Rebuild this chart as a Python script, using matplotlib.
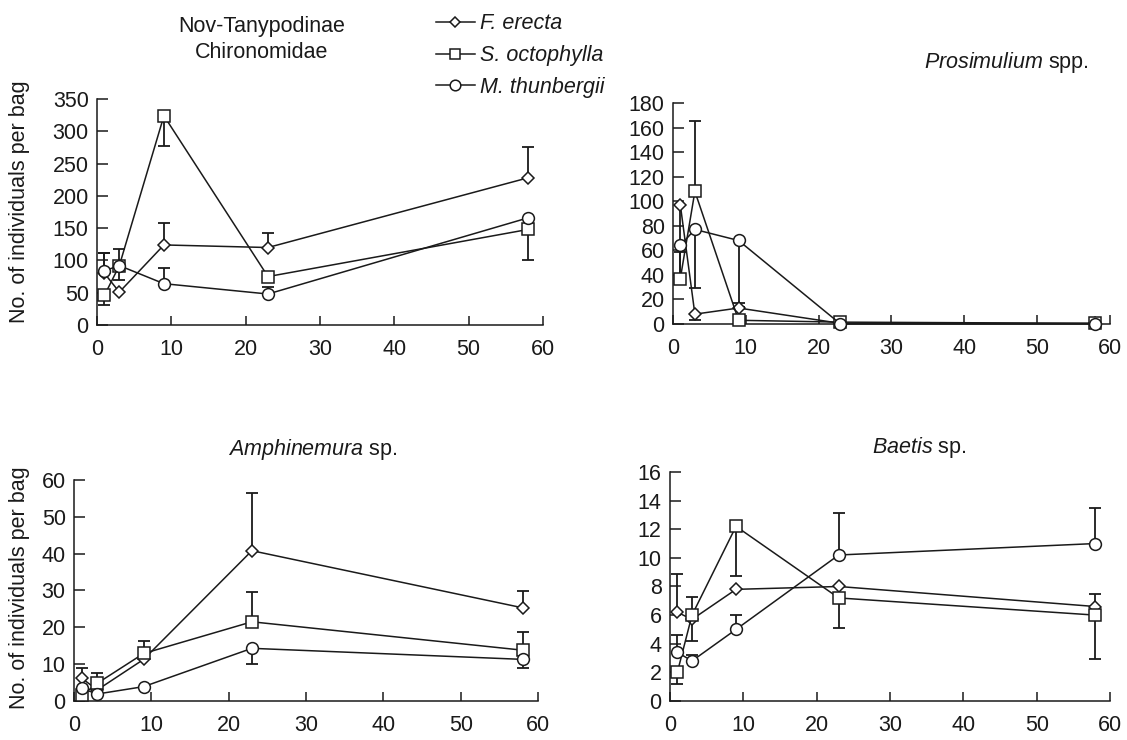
import numpy as np
import matplotlib
matplotlib.use("Agg")
import matplotlib.pyplot as plt

plt.rcParams['font.family'] = ['Liberation Sans', 'DejaVu Sans']
plt.rcParams['mathtext.fontset'] = 'custom'
plt.rcParams['mathtext.rm'] = 'Liberation Sans'
plt.rcParams['mathtext.it'] = 'Liberation Sans:italic'

# days in the stream
days = [1, 3, 9, 23, 58]
species = ['F. erecta', 'S. octophylla', 'M. thunbergii']
markers = ['D', 's', 'o']
msizes = [6.0, 8.0, 8.5]

# Nov-Tanypodinae Chironomidae
chir_mean = {'F. erecta': [80, 51, 124, 120, 228],
             'S. octophylla': [46, 92, 324, 75, 148],
             'M. thunbergii': [84, 92, 64, 48, 166]}
chir_up = {'F. erecta': [31, 0, 34, 23, 47],
           'S. octophylla': [0, 26, 0, 0, 0],
           'M. thunbergii': [27, 0, 25, 11, 0]}
chir_lo = {'F. erecta': [0, 0, 0, 0, 0],
           'S. octophylla': [15, 22, 47, 0, 47],
           'M. thunbergii': [0, 0, 0, 0, 0]}

# Prosimulium spp.
pros_mean = {'F. erecta': [97, 8, 13, 0.5, 0.5],
             'S. octophylla': [37, 108, 3, 1.5, 0.5],
             'M. thunbergii': [64, 77, 68, 0, 0]}
pros_up = {'F. erecta': [0, 0, 4, 0, 0],
           'S. octophylla': [22, 57, 0, 0, 0],
           'M. thunbergii': [0, 0, 0, 0, 0]}
pros_lo = {'F. erecta': [57, 5, 0, 0, 0],
           'S. octophylla': [0, 0, 0, 0, 0],
           'M. thunbergii': [0, 48, 54, 0, 0]}

# Amphinemura sp.
amph_mean = {'F. erecta': [6.2, 3.0, 11.3, 40.8, 25.3],
             'S. octophylla': [1.5, 4.8, 12.9, 21.5, 13.8],
             'M. thunbergii': [3.4, 1.9, 3.9, 14.3, 11.3]}
amph_up = {'F. erecta': [2.8, 0, 0, 15.6, 4.6],
           'S. octophylla': [0, 2.7, 3.4, 8.1, 5.0],
           'M. thunbergii': [0, 0, 0, 0, 0]}
amph_lo = {'F. erecta': [0, 0, 0, 0, 0],
           'S. octophylla': [0, 0, 0, 0, 0],
           'M. thunbergii': [0, 0, 0, 4.3, 2.4]}

# Baetis sp.
baet_mean = {'F. erecta': [6.2, 5.7, 7.8, 8.0, 6.6],
             'S. octophylla': [2.0, 6.0, 12.2, 7.2, 6.0],
             'M. thunbergii': [3.4, 2.8, 5.0, 10.2, 11.0]}
baet_up = {'F. erecta': [2.7, 0, 0, 0, 0.9],
           'S. octophylla': [0, 1.3, 0, 0, 0],
           'M. thunbergii': [1.2, 0.4, 1.0, 2.9, 2.5]}
baet_lo = {'F. erecta': [0, 1.5, 0, 0, 0],
           'S. octophylla': [0.8, 0, 3.5, 2.1, 3.1],
           'M. thunbergii': [0, 0, 0, 0, 0]}

ink = '#1a1a1a'
fs = 15.5
fig = plt.figure(figsize=(11.27, 7.40), dpi=100)

panels = [
    ([0.0861, 0.5608, 0.3957, 0.3054], chir_mean, chir_up, chir_lo, 350, 50),
    ([0.5972, 0.5622, 0.3875, 0.2986], pros_mean, pros_up, pros_lo, 180, 20),
    ([0.0657, 0.0527, 0.4117, 0.2987], amph_mean, amph_up, amph_lo, 60, 10),
    ([0.5945, 0.0527, 0.3905, 0.3095], baet_mean, baet_up, baet_lo, 16, 2),
]

axes = []
for rect, mean, up, lo, ymax, ystep in panels:
    ax = fig.add_axes(rect)
    for sp, mk, ms in zip(species, markers, msizes):
        y = np.array(mean[sp], dtype=float)
        u = np.array(up[sp], dtype=float)
        l = np.array(lo[sp], dtype=float)
        x = np.array(days, dtype=float)
        m = u > 0
        if m.any():
            ax.errorbar(x[m], y[m], yerr=[np.zeros(m.sum()), u[m]], fmt='none',
                        ecolor=ink, elinewidth=1.3, capsize=4, capthick=1.3,
                        zorder=2, clip_on=False)
        m = l > 0
        if m.any():
            ax.errorbar(x[m], y[m], yerr=[l[m], np.zeros(m.sum())], fmt='none',
                        ecolor=ink, elinewidth=1.3, capsize=4, capthick=1.3,
                        zorder=2, clip_on=False)
        ax.plot(days, mean[sp], color=ink, lw=1.1, marker=mk, ms=ms,
                mfc='white', mec=ink, mew=1.1, label=sp, zorder=3,
                clip_on=False)
    ax.set_xlim(0, 60)
    ax.set_ylim(0, ymax)
    ax.set_xticks(range(0, 61, 10))
    ax.set_yticks(np.arange(0, ymax + ystep / 2, ystep))
    for s in ['top', 'right']:
        ax.spines[s].set_visible(False)
    for s in ['left', 'bottom']:
        ax.spines[s].set_color(ink)
        ax.spines[s].set_linewidth(1.1)
    ax.tick_params(direction='in', width=1.1, color=ink,
                   labelsize=fs, labelcolor=ink)
    ax.tick_params(axis='x', length=6.5, pad=10)
    ax.tick_params(axis='y', length=8, pad=6)
    axes.append(ax)

fig.text(0.0177, 0.727, 'No. of individuals per bag', rotation=90,
         ha='center', va='center', fontsize=fs, color=ink)
fig.text(0.0177, 0.2054, 'No. of individuals per bag', rotation=90,
         ha='center', va='center', fontsize=fs, color=ink)

fig.text(0.2325, 0.947, 'Nov-Tanypodinae\nChironomidae', ha='center',
         va='center', fontsize=fs, color=ink, linespacing=1.3)
fig.text(0.893, 0.916, r'$\it{Prosimulium}$ spp.', ha='center', va='center',
         fontsize=fs, color=ink)
fig.text(0.2777, 0.392, r'$\it{Amphinemura}$ sp.', ha='center', va='center',
         fontsize=fs, color=ink)
fig.text(0.8155, 0.3946, r'$\it{Baetis}$ sp.', ha='center', va='center',
         fontsize=fs, color=ink)

handles, labels = axes[0].get_legend_handles_labels()
fig.legend(handles, labels, loc='upper left', bbox_to_anchor=(0.3869, 0.982),
           frameon=False, prop={'style': 'italic', 'size': fs},
           handlelength=1.8, handletextpad=0.25, labelspacing=0.5,
           markerscale=0.9, borderpad=0, borderaxespad=0, labelcolor=ink)

fig.savefig('out.png', dpi=100)
